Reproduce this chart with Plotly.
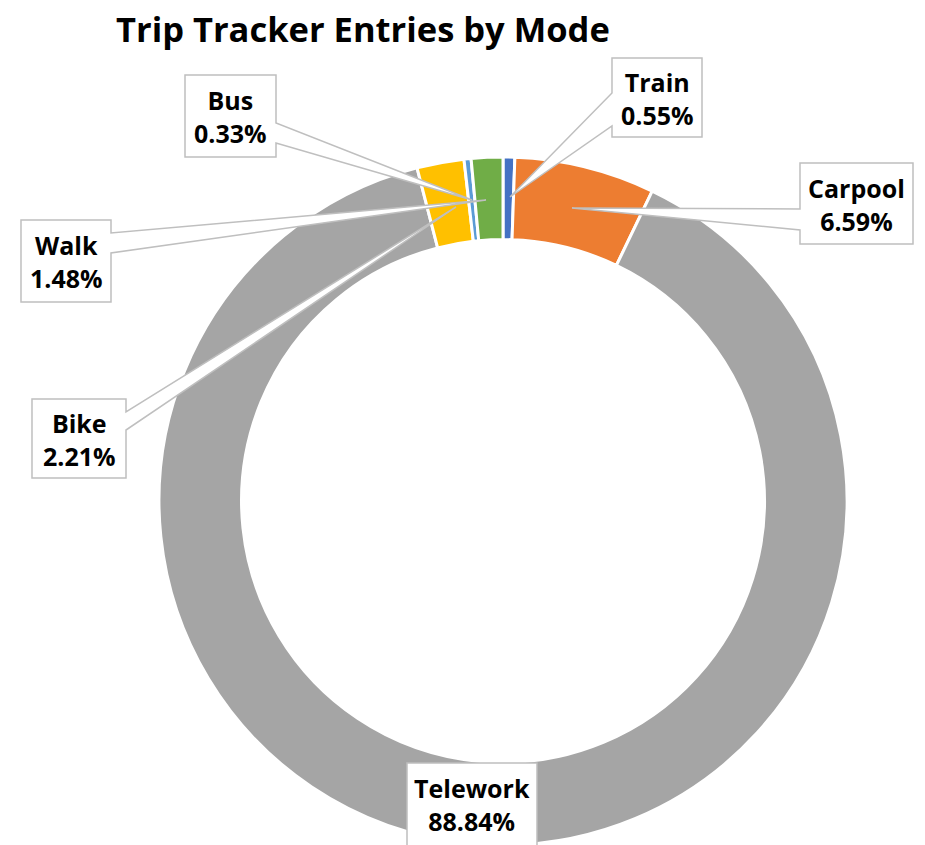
import plotly.graph_objects as go

# ---- data ----
modes = ["Train", "Carpool", "Telework", "Bike", "Bus", "Walk"]
shares = [0.55, 6.59, 88.84, 2.21, 0.33, 1.48]
colors = ["#4472C4", "#ED7D31", "#A5A5A5", "#FFC000", "#5B9BD5", "#70AD47"]
title_text = "Trip Tracker Entries by Mode"

W, H = 925, 845
OFF = 0  # page body margin removed via post_script

def px(x, y):
    return (x - OFF) / W, 1 - (y - OFF) / H

# pie geometry (screen pixels)
cx, cy, R = 503, 501, 344
hole = 0.76

fx0, fy1 = px(cx - R, cy - R)
fx1, fy0 = px(cx + R, cy + R)

fig = go.Figure()
fig.add_trace(go.Pie(
    labels=modes, values=shares, sort=False, direction="clockwise", rotation=0,
    hole=hole, textinfo="none", hoverinfo="label+percent",
    marker=dict(colors=colors, line=dict(color="white", width=3)),
    domain=dict(x=[fx0, fx1], y=[max(fy0, 0), fy1]),
    showlegend=False,
))

# callout layout: box (x0,y0,x1,y1), wedge side, wedge base y's, tip
callouts = {
    "Train":    dict(box=(612, 58, 702, 137), side="L", b=(93, 126), tip=(510, 197)),
    "Carpool":  dict(box=(800, 163, 913, 244), side="L", b=(209, 230), tip=(572, 208)),
    "Bus":      dict(box=(185, 75, 276, 157), side="R", b=(123, 143), tip=(472, 200)),
    "Walk":     dict(box=(21, 220, 111, 302), side="R", b=(233, 253), tip=(486, 200)),
    "Bike":     dict(box=(32, 399, 126, 478), side="R", b=(412, 430), tip=(456, 207)),
    "Telework": dict(box=(407, 763, 537, 850), side=None),
}

def P(x, y):
    return f"{x:.5f},{y:.5f}"

FONT = "Open Sans, Lato, sans-serif"
shapes = []
annotations = []
for m, v in zip(modes, shares):
    c = callouts[m]
    x0, y0, x1, y1 = c["box"]
    if c["side"] == "L":
        b1, b2 = c["b"]
        tx, ty = c["tip"]
        pts = [(x0, y0), (x1, y0), (x1, y1), (x0, y1), (x0, b2), (tx, ty), (x0, b1)]
    elif c["side"] == "R":
        b1, b2 = c["b"]
        tx, ty = c["tip"]
        pts = [(x0, y0), (x1, y0), (x1, b1), (tx, ty), (x1, b2), (x1, y1), (x0, y1)]
    else:
        pts = [(x0, y0), (x1, y0), (x1, y1), (x0, y1)]
    path = "M " + " L ".join(P(*px(x, y)) for x, y in pts) + " Z"
    shapes.append(dict(type="path", path=path, xref="paper", yref="paper",
                       fillcolor="white", line=dict(color="#BFBFBF", width=1.5), layer="above"))
    cyb = (y0 + y1) / 2 + 1 if m != "Telework" else 804
    ax, ay = px((x0 + x1) / 2, cyb)
    annotations.append(dict(
        x=ax, y=ay, xref="paper", yref="paper", xanchor="center", yanchor="middle",
        text=f"<b>{m}<br>{v:.2f}%</b>", showarrow=False, align="center",
        font=dict(family=FONT, size=25, color="#000000"),
    ))

tx, ty = px(363, 29)
annotations.append(dict(
    x=tx, y=ty, xref="paper", yref="paper", xanchor="center", yanchor="middle",
    text=f"<b>{title_text}</b>", showarrow=False, valign="middle",
    font=dict(family=FONT, size=34.5, color="#000000"),
))

fig.update_layout(
    width=W, height=H, margin=dict(l=0, r=0, t=0, b=0),
    paper_bgcolor="white", plot_bgcolor="white",
    shapes=shapes, annotations=annotations,
)

fig.write_html("out.html", config={"displayModeBar": False},
               post_script="document.body.style.margin='0';")
